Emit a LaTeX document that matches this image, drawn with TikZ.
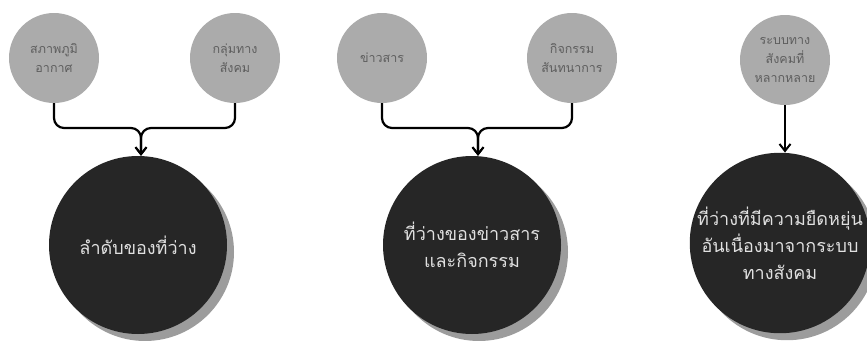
\documentclass[tikz,border=0pt]{standalone}
\usepackage{fontspec}
\newfontfamily\thaifont[Script=Thai]{Loma}
\usetikzlibrary{arrows.meta,shadows}
\definecolor{smallgray}{HTML}{ABABAB}
\definecolor{smalltext}{HTML}{5E5E5E}
\definecolor{bigfill}{HTML}{262626}
\definecolor{shadowgray}{HTML}{9C9C9C}
\tikzset{
  factor/.style={circle, fill=smallgray, text=smalltext, minimum size=90pt, inner sep=0pt,
    align=center, font=\thaifont\fontsize{12.5}{19}\selectfont},
  space/.style={circle, fill=bigfill, text=white!88!black, minimum size=178pt, inner sep=0pt,
    align=center, font=\thaifont\fontsize{18}{27}\selectfont,
    drop shadow={shadow xshift=7pt, shadow yshift=-7pt, fill=shadowgray, opacity=1}},
  link/.style={line width=2.2pt, rounded corners=10pt},
  tip/.style={-{Straight Barb[length=7pt,width=11pt,line width=2pt]}}
}
\begin{document}
\begin{tikzpicture}[x=1pt,y=-1pt]
  \useasboundingbox (0,0) rectangle (867,340);
  % small circles
  \node[factor] (clim) at (54,58) {สภาพภูมิ\\อากาศ};
  \node[factor] (soc) at (235,58) {กลุ่มทาง\\สังคม};
  \node[factor] (news) at (382,58) {ข่าวสาร};
  \node[factor] (recr) at (572,58) {กิจกรรม\\สันทนาการ};
  \node[factor] (sys) at (785,60) {ระบบทาง\\สังคมที่\\หลากหลาย};
  % big circles
  \node[space] (order) at (138,245) {ลำดับของที่ว่าง};
  \node[space] (info) at (472,245) {ที่ว่างของข่าวสาร\\และกิจกรรม};
  \node[space] (flex) at (780,243) {ที่ว่างที่มีความยืดหยุ่น\\อันเนื่องมาจากระบบ\\ทางสังคม};
  % junctions
  \coordinate (j1) at (141,128);
  \coordinate (j2) at (478,128);
  \begin{scope}[link]
    \draw[tip] (clim.south) |- (j1) -- (j1 |- order.north);
    \draw[tip] (soc.south) |- (j1) -- (j1 |- order.north);
    \draw[tip] (news.south) |- (j2) -- (j2 |- info.north);
    \draw[tip] (recr.south) |- (j2) -- (j2 |- info.north);
    \draw[tip] (sys.south) -- (sys.south |- flex.north);
  \end{scope}
\end{tikzpicture}
\end{document}
